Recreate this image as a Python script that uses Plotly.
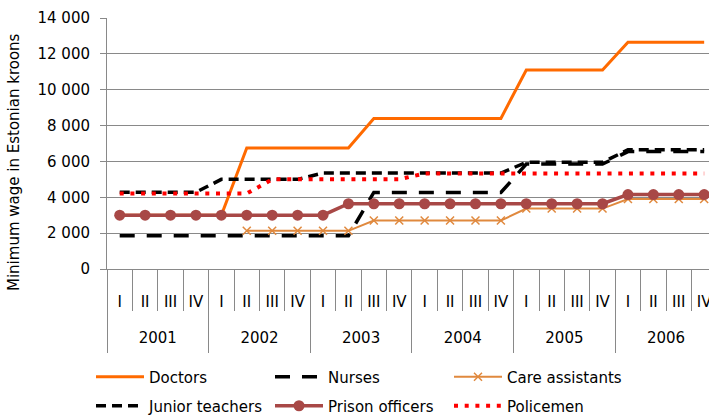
import plotly.graph_objects as go

# ---- data ----
quarters = ["I", "II", "III", "IV"] * 6
years = ["2001", "2002", "2003", "2004", "2005", "2006"]

doctors = [3000, 3000, 3000, 3000, 3000, 6750, 6750, 6750, 6750, 6750,
           8400, 8400, 8400, 8400, 8400, 8400, 11100, 11100, 11100, 11100,
           12650, 12650, 12650, 12650]
nurses = [1850, 1850, 1850, 1850, 1850, 1850, 1850, 1850, 1850, 1850,
          4270, 4270, 4270, 4270, 4270, 4270, 5850, 5850, 5850, 5850,
          6550, 6550, 6550, 6550]
care_assistants = [None, None, None, None, None, 2130, 2130, 2130, 2130, 2130,
                   2700, 2700, 2700, 2700, 2700, 2700, 3370, 3370, 3370, 3370,
                   3900, 3900, 3900, 3900]
junior_teachers = [4280, 4280, 4280, 4280, 5000, 5000, 5000, 5000, 5350, 5350,
                   5350, 5350, 5350, 5350, 5350, 5350, 5950, 5950, 5950, 5950,
                   6650, 6650, 6650, 6650]
prison_officers = [3000, 3000, 3000, 3000, 3000, 3000, 3000, 3000, 3000, 3640,
                   3640, 3640, 3640, 3640, 3640, 3640, 3640, 3640, 3640, 3640,
                   4150, 4150, 4150, 4150]
policemen = [4210, 4210, 4210, 4210, 4210, 4210, 5000, 5000, 5000, 5000,
             5000, 5000, 5330, 5330, 5330, 5330, 5330, 5330, 5330, 5330,
             5330, 5330, 5330, 5330]

y_ticks = [0, 2000, 4000, 6000, 8000, 10000, 12000, 14000]
y_tick_labels = ["0", "2 000", "4 000", "6 000", "8 000", "10 000", "12 000", "14 000"]

# ---- styling ----
FONT = "DejaVu Sans"
FS = 15
GREY = "#898989"

n = len(quarters)
xs = list(range(n))
quarter_bounds = [i - 0.5 for i in range(n + 1)]
year_bounds = [i * 4 - 0.5 for i in range(len(years) + 1)]
year_centers = [i * 4 + 1.5 for i in range(len(years))]
x_range = [-0.5, 23.19]

fig = go.Figure()

fig.add_trace(go.Scatter(x=xs, y=doctors, name="Doctors", mode="lines",
                         line=dict(color="#FF6A00", width=3), legend="legend"))
fig.add_trace(go.Scatter(x=xs, y=nurses, name="Nurses", mode="lines",
                         line=dict(color="#000000", width=3.5, dash="15px,12px"),
                         legend="legend"))
fig.add_trace(go.Scatter(x=xs, y=care_assistants, name="Care assistants",
                         mode="lines+markers",
                         line=dict(color="#E0893E", width=2),
                         marker=dict(symbol="x-thin", size=8,
                                     line=dict(color="#E0893E", width=1.5)),
                         legend="legend"))
fig.add_trace(go.Scatter(x=xs, y=junior_teachers, name="Junior teachers", mode="lines",
                         line=dict(color="#000000", width=3.5, dash="10px,6px"),
                         legend="legend2"))
fig.add_trace(go.Scatter(x=xs, y=prison_officers, name="Prison officers",
                         mode="lines+markers",
                         line=dict(color="#A84846", width=3.5),
                         marker=dict(symbol="circle", size=11, color="#A84846"),
                         legend="legend2"))
fig.add_trace(go.Scatter(x=xs, y=policemen, name="Policemen", mode="lines",
                         line=dict(color="#FF0000", width=4, dash="4px,6.7px"),
                         legend="legend2"))

# invisible helper trace so the year axis is drawn
fig.add_trace(go.Scatter(x=[None], y=[None], xaxis="x2", showlegend=False,
                         hoverinfo="skip"))

PL, PT, PB = 107, 18, 269
PW, PH = 709 - PL, PB - PT

fig.update_layout(
    width=709, height=416,
    margin=dict(l=PL, r=0, t=PT, b=416 - PB, autoexpand=False),
    paper_bgcolor="white", plot_bgcolor="white",
    font=dict(family=FONT, size=FS, color="#000000"),
    xaxis=dict(
        range=x_range, tickmode="array", tickvals=xs, ticktext=quarters,
        ticks="", showgrid=False, zeroline=False,
        showline=True, linecolor=GREY, linewidth=1,
        ticklabelstandoff=19, ticklabeloverflow="allow",
        tickfont=dict(family=FONT, size=FS),
        minor=dict(tickmode="array", tickvals=quarter_bounds, ticks="outside",
                   ticklen=41, tickcolor=GREY, tickwidth=1, showgrid=False),
    ),
    xaxis2=dict(
        overlaying="x", anchor="y", side="bottom",
        range=x_range, tickmode="array", tickvals=year_centers, ticktext=years,
        ticks="", showgrid=False, zeroline=False, showline=False,
        ticklabelstandoff=58, ticklabeloverflow="allow",
        tickfont=dict(family=FONT, size=FS),
        minor=dict(tickmode="array", tickvals=year_bounds, ticks="outside",
                   ticklen=83, tickcolor=GREY, tickwidth=1, showgrid=False),
    ),
    yaxis=dict(
        range=[0, 14000], tickmode="array", tickvals=y_ticks, ticktext=y_tick_labels,
        ticks="outside", ticklen=6, tickcolor=GREY, tickwidth=1,
        showgrid=True, gridcolor=GREY, gridwidth=1,
        zeroline=False, showline=True, linecolor=GREY, linewidth=1,
        ticklabelstandoff=7,
        tickfont=dict(family=FONT, size=FS),
    ),
    legend=dict(orientation="h", x=(91 - PL) / PW, xanchor="left",
                y=(PB - 377) / PH, yanchor="middle",
                entrywidth=116, itemwidth=48,
                font=dict(family=FONT, size=FS), bgcolor="rgba(0,0,0,0)"),
    legend2=dict(orientation="h", x=(91 - PL) / PW, xanchor="left",
                 y=(PB - 406) / PH, yanchor="middle",
                 entrywidth=116, itemwidth=48,
                 font=dict(family=FONT, size=FS), bgcolor="rgba(0,0,0,0)"),
    annotations=[dict(text="Minimum wage in Estonian kroons", textangle=-90,
                      xref="paper", yref="paper",
                      x=(14 - PL) / PW, y=(PB - 162) / PH,
                      xanchor="center", yanchor="middle", showarrow=False,
                      font=dict(family=FONT, size=FS))],
    showlegend=True,
)

fig.write_html("out.html",
               config={"displayModeBar": False},
               post_script="document.body.style.margin='0px';"
                           "document.body.style.overflow='hidden';")
